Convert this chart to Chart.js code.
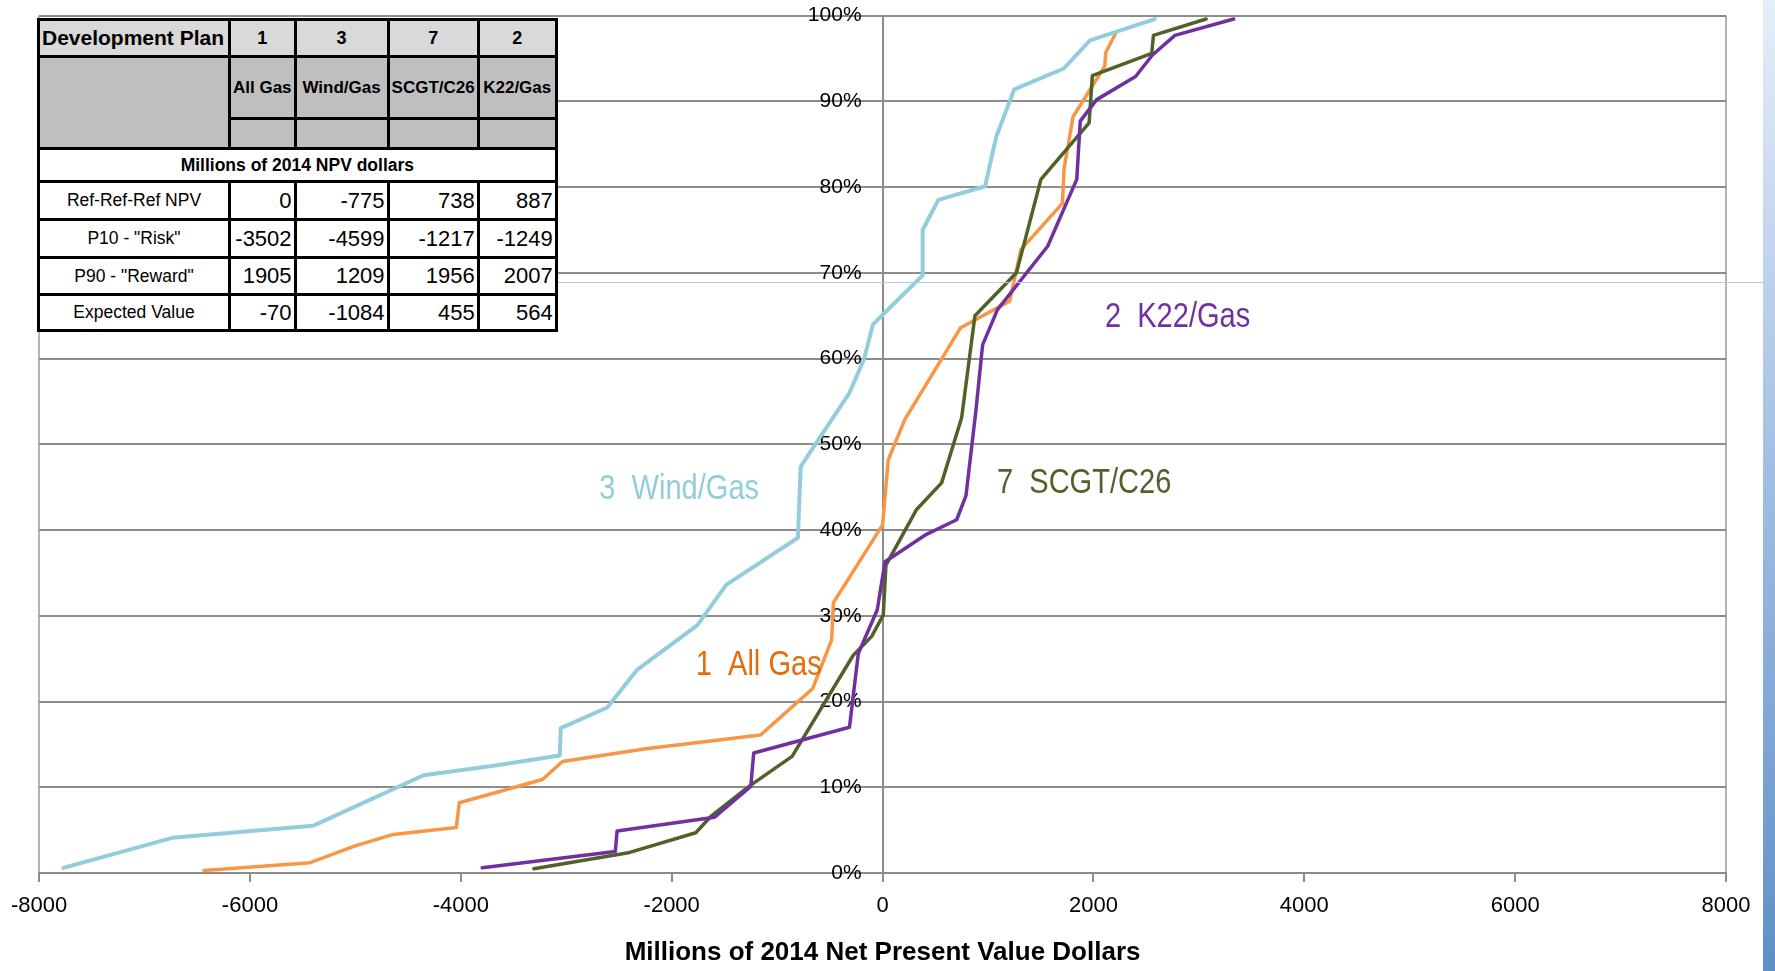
<!DOCTYPE html>
<html lang="en">
<head>
    <meta charset="UTF-8">
    <title>NPV distribution by development plan</title>
    <script src="https://cdn.jsdelivr.net/npm/chart.js"></script>
    <style>
        html, body { margin: 0; padding: 0; background: #fff; }
        body { width: 1775px; height: 971px; position: relative; overflow: hidden; }
        #npvChart { position: absolute; left: 0; top: 0; }
        .side-bar { position: absolute; left: 1763px; top: 0; width: 12px; height: 971px;
            background: linear-gradient(#e6eef8, #a6c2e4 45%, #5f8fc8); }
        .slide-line { position: absolute; left: 554px; top: 282px; width: 1209px; height: 1px; background: #b7cbe6; }
        table.plan { position: absolute; left: 37px; top: 18px; border-collapse: collapse; table-layout: fixed;
            font-family: "Liberation Sans", Arial, sans-serif; color: #000; background: #fff; }
        table.plan td { border: 3px solid #000; padding: 0 2px; overflow: hidden; white-space: nowrap; }
        .hdr td { background: #d9d9d9; font-weight: bold; font-size: 18px; text-align: center; }
        .hdr td.first { font-size: 21px; text-align: left; padding-left: 2px; }
        .names td { background: #bfbfbf; font-weight: bold; font-size: 17px; text-align: center; padding: 6px 0 0 0; }
        .blank td { background: #bfbfbf; }
        .unit td { font-weight: bold; font-size: 17.5px; text-align: center; }
        .val td { font-size: 22px; text-align: right; }
        .val td.first { font-size: 17.5px; text-align: center; }
    </style>
</head>
<body>
    <canvas id="npvChart" width="1775" height="971"></canvas>
    <div class="slide-line"></div>
    <div class="side-bar"></div>
    <table class="plan" id="planTable">
        <colgroup>
            <col style="width:191px"><col style="width:65px"><col style="width:93px"><col style="width:90px"><col style="width:78px">
        </colgroup>
        <tbody id="planBody"></tbody>
    </table>
    <script>
        // Tabla de planes
        const planNumbers = ['1', '3', '7', '2'];
        const planNames = ['All Gas', 'Wind/Gas', 'SCGT/C26', 'K22/Gas'];
        const rowLabels = ['Ref-Ref-Ref NPV', 'P10 - "Risk"', 'P90 - "Reward"', 'Expected Value'];
        const refNpv = [0, -775, 738, 887];
        const p10Risk = [-3502, -4599, -1217, -1249];
        const p90Reward = [1905, 1209, 1956, 2007];
        const expectedValue = [-70, -1084, 455, 564];

        // Curvas (millones de dolares, probabilidad acumulada %)
        const allGasX = [-6437, -5430, -4995, -4641, -4043, -4015, -3226, -3036, -2246, -1157, -663, -483, -467, 0, 54, 212, 741, 1206, 1312, 1706, 1722, 1807, 2108, 2117, 2213];
        const allGasY = [0.3, 1.2, 3.2, 4.5, 5.3, 8.2, 10.9, 13.0, 14.5, 16.1, 21.5, 27.2, 31.5, 40.6, 48.2, 52.9, 63.6, 66.7, 72.7, 78.1, 82.2, 88.2, 94.1, 95.7, 98.0];
        const windGasX = [-7771, -6737, -5403, -4353, -3689, -3062, -3052, -2611, -2328, -1756, -1484, -803, -777, -314, -177, -90, 380, 380, 529, 973, 1079, 1249, 1715, 1968, 2582];
        const windGasY = [0.6, 4.1, 5.5, 11.4, 12.5, 13.7, 16.9, 19.3, 23.7, 28.9, 33.6, 39.1, 47.4, 56.0, 59.9, 64.0, 69.7, 75.0, 78.5, 80.1, 85.9, 91.4, 93.8, 97.1, 99.6];
        const scgtX = [-3308, -2398, -1772, -1620, -1267, -858, -278, -103, 7, 32, 323, 560, 750, 876, 1270, 1502, 1959, 1990, 2553, 2569, 3069];
        const scgtY = [0.5, 2.4, 4.7, 6.7, 10.1, 13.6, 25.4, 27.6, 30.1, 35.9, 42.4, 45.5, 53.1, 65.0, 70.0, 80.9, 87.5, 93.0, 95.6, 97.7, 99.6];
        const k22X = [-3797, -2535, -2518, -1593, -1250, -1222, -314, -230, -50, 23, 402, 703, 791, 886, 949, 1090, 1566, 1842, 1875, 2031, 2400, 2560, 2773, 3331];
        const k22Y = [0.6, 2.5, 4.9, 6.5, 10.1, 14.0, 17.0, 25.6, 30.7, 36.3, 39.4, 41.2, 44.0, 54.0, 61.6, 65.7, 73.1, 80.9, 87.7, 90.2, 92.9, 95.4, 97.7, 99.6];

        const xTicksMin = -8000;
        const xTicksMax = 8000;

        // Armar la tabla
        function addRow(cls, cells) {
            const tr = document.createElement('tr');
            tr.className = cls;
            cells.forEach((c, i) => {
                const td = document.createElement('td');
                td.textContent = c.text;
                if (i === 0 && c.first !== false) td.className = 'first';
                if (c.colSpan) td.colSpan = c.colSpan;
                if (c.rowSpan) td.rowSpan = c.rowSpan;
                tr.appendChild(td);
            });
            document.getElementById('planBody').appendChild(tr);
            return tr;
        }
        addRow('hdr', [{ text: 'Development Plan' }, ...planNumbers.map(t => ({ text: t }))]).style.height = '37px';
        addRow('names', [{ text: '', rowSpan: 2 }, ...planNames.map(t => ({ text: t }))]).style.height = '62px';
        addRow('blank', planNames.map(() => ({ text: '', first: false }))).style.height = '30px';
        addRow('unit', [{ text: 'Millions of 2014 NPV dollars', colSpan: 5, first: false }]).style.height = '33px';
        const valueRows = [refNpv, p10Risk, p90Reward, expectedValue];
        const rowHeights = ['38px', '38px', '37px', '36px'];
        valueRows.forEach((vals, r) => {
            addRow('val', [{ text: rowLabels[r] }, ...vals.map(v => ({ text: String(v) }))]).style.height = rowHeights[r];
        });

        // Series
        const series = [
            { name: '1  All Gas', xs: allGasX, ys: allGasY, color: '#f79646', width: 3.5 },
            { name: '3  Wind/Gas', xs: windGasX, ys: windGasY, color: '#92cddc', width: 4 },
            { name: '7  SCGT/C26', xs: scgtX, ys: scgtY, color: '#4f6228', width: 3.5 },
            { name: '2  K22/Gas', xs: k22X, ys: k22Y, color: '#7030a0', width: 3.5 }
        ];

        // Etiquetas junto a cada curva (posicion en unidades de datos)
        const seriesLabels = [
            { text: '1  All Gas', x: -1772, y: 24.2, color: '#e46c0a' },
            { text: '3  Wind/Gas', x: -2687, y: 44.7, color: '#92cddc' },
            { text: '7  SCGT/C26', x: 1085, y: 45.4, color: '#4f6228' },
            { text: '2  K22/Gas', x: 2109, y: 64.8, color: '#7030a0' }
        ];

        const sansFont = '"Liberation Sans", Arial, sans-serif';

        // Texto angosto tipo Calibri: se comprime en horizontal
        const labelPlugin = {
            id: 'seriesLabels',
            afterDatasetsDraw(chart) {
                const { ctx, scales: { x, y } } = chart;
                seriesLabels.forEach(l => {
                    ctx.save();
                    ctx.translate(x.getPixelForValue(l.x), y.getPixelForValue(l.y));
                    ctx.scale(0.83, 1);
                    ctx.font = '35px ' + sansFont;
                    ctx.textBaseline = 'middle';
                    ctx.textAlign = 'left';
                    ctx.fillStyle = l.color;
                    ctx.fillText(l.text, 0, 0);
                    ctx.restore();
                });
            }
        };

        const ctx = document.getElementById('npvChart').getContext('2d');
        new Chart(ctx, {
            type: 'scatter',
            data: {
                datasets: series.map((s, i) => ({
                    label: s.name,
                    data: s.xs.map((v, k) => ({ x: v, y: s.ys[k] })),
                    showLine: true,
                    borderColor: s.color,
                    backgroundColor: s.color,
                    borderWidth: s.width,
                    borderJoinStyle: 'round',
                    borderCapStyle: 'round',
                    pointRadius: 0,
                    tension: 0,
                    order: series.length - i
                }))
            },
            options: {
                responsive: false,
                animation: false,
                layout: { padding: { left: 38, right: 49, top: 5, bottom: 0 } },
                plugins: {
                    legend: { display: false },
                    tooltip: { enabled: false }
                },
                scales: {
                    x: {
                        type: 'linear',
                        min: xTicksMin,
                        max: xTicksMax,
                        position: 'bottom',
                        afterFit: s => { s.height = 98; },
                        ticks: {
                            stepSize: 2000,
                            maxRotation: 0,
                            padding: 11,
                            color: '#000',
                            font: { family: sansFont, size: 22 },
                            callback: v => String(v)
                        },
                        grid: {
                            lineWidth: 2,
                            tickLength: 9,
                            color: c => (c.tick && (c.tick.value === xTicksMin || c.tick.value === xTicksMax)) ? '#b4b4b4' : 'rgba(0,0,0,0)',
                            tickColor: '#8c8c8c'
                        },
                        border: { color: '#8c8c8c', width: 2 },
                        title: {
                            display: true,
                            text: 'Millions of 2014 Net Present Value Dollars',
                            color: '#000',
                            font: { family: sansFont, size: 26, weight: 'bold' },
                            padding: { top: 0, bottom: 3 }
                        }
                    },
                    y: {
                        min: 0,
                        max: 100,
                        position: { x: 0 },
                        ticks: {
                            stepSize: 10,
                            color: '#000',
                            font: { family: sansFont, size: 21 },
                            // el eje cruza en x = 0; los espacios separan la etiqueta del eje
                            callback: v => v + '%\u2002\u2002'
                        },
                        grid: { color: '#8c8c8c', lineWidth: 2, tickLength: 5 },
                        border: { color: '#8c8c8c', width: 2 }
                    }
                }
            },
            plugins: [labelPlugin]
        });
    </script>
</body>
</html>
